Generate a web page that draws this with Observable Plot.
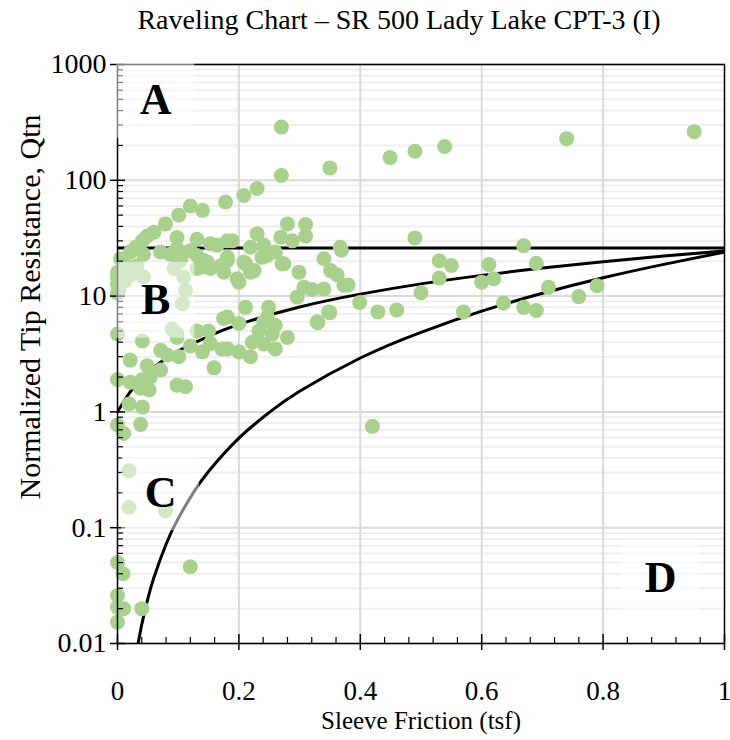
<!DOCTYPE html>
<html><head><meta charset="utf-8">
<script src="https://cdn.jsdelivr.net/npm/d3@7"></script>
<script src="https://cdn.jsdelivr.net/npm/@observablehq/plot@0.6"></script>
<style>body{margin:0;background:#fff}</style>
</head><body><div id="chart"></div>
<script>
const chartTitle = "Raveling Chart \u2013 SR 500 Lady Lake CPT-3 (I)";
const xTitle = "Sleeve Friction (tsf)";
const yTitle = "Normalized Tip Resistance, Qtn";

// CPT readings: sleeve friction (tsf) and normalized tip resistance Qtn
const sleeveFriction = [
  0.270,0.270,0.350,0.449,0.490,0.539,0.740,0.950,
  0.120,0.140,0.178,0.101,0.079,0.060,0.049,0.098,0.131,0.041,0.030,0.021,0.153,0.164,0.098,0.120,0.071,0.087,0.043,0.131,0.181,0.148,0.170,0.104,0.032,0.019,0.000,0.002,0.021,0.043,0.112,0.109,0.093,0.142,0.153,0.175,
  0.208,0.230,0.280,0.310,0.230,0.189,0.269,0.288,0.310,0.219,0.241,0.260,0.238,0.271,0.208,0.181,0.219,0.197,0.299,0.340,0.351,0.362,0.367,0.307,0.340,0.296,0.373,0.211,0.249,
  0.181,0.211,0.225,0.200,0.274,0.247,0.142,0.131,
  0.321,0.380,0.399,0.429,0.460,0.350,0.330,0.490,0.369,
  0.500,0.530,0.550,0.530,0.570,0.612,0.600,0.620,0.636,0.669,0.690,0.710,0.669,0.690,0.760,0.790,0.420,
  0.181,0.200,0.247,0.241,0.260,0.233,0.255,0.280,0.222,0.241,0.181,0.200,0.219,0.260,0.329,0.348,0.175,0.090,0.098,0.131,0.150,0.041,0.000,0.120,0.153,0.140,0.172,0.071,0.082,0.101,0.021,0.049,0.071,0.159,0.000,0.021,0.041,0.054,0.038,0.052,0.098,0.112,0.019,0.041,0.000,0.038,0.010,0.098,0.107,
  0.019,0.019,0.079,0.000,0.009,0.120,0.000,0.000,0.010,0.040,0.000,
  0.000,0.000,0.000,0.012,0.005
];
const tipResistance = [
  288,110,128,157,178,196,229,263,
  60,55,65,50,42,35.6,33,32,31,30,26.4,24,28.3,27.5,25.6,24.7,24,23,23,22.4,30,19.7,18.3,20.3,18.3,17.9,14.6,11.2,15.2,14.6,11.2,14.6,17.3,17.9,17.3,16.1,
  74,85,42,41.5,34.5,30,32.3,30,33,26.4,27.5,24,21.6,19,19.7,21.6,16.1,14.1,16.1,21,16.6,15.2,26.4,11.9,11.5,9.8,12.4,8.0,8.0,
  20.3,19.0,16.6,13.2,19.0,22.5,20.3,17.3,
  11.4,12.5,8.8,7.3,7.6,7.2,5.9,31.8,24.9,
  10.7,20.2,18.4,14.3,7.3,18.7,13.2,14.1,8.7,27.2,19.2,11.9,8.0,7.5,9.9,12.3,0.75,
  6.6,5.8,6.6,6.0,5.6,5.0,4.7,4.4,4.0,3.85,3.5,3.3,3.0,3.5,6.0,7.3,6.4,5.2,4.4,5.0,5.0,4.1,4.7,3.7,3.9,3.3,3.5,3.4,3.1,3.0,2.8,2.5,2.3,2.4,1.9,1.8,1.9,2.0,1.6,1.55,1.7,1.65,1.17,1.1,0.77,0.78,0.65,4.7,8.6,
  0.31,0.15,0.14,0.050,0.040,0.046,0.026,0.0206,0.020,0.020,0.0153,
  12.8,10.6,16,13.5,21
];

// Boundary lines
const thresholdQ = 26;
const upperCurveF = [0, 0.02, 0.05, 0.1, 0.15, 0.2, 0.3, 0.4, 0.5, 0.6, 0.7, 0.8, 0.9, 1.0];
const upperCurveQ = [1.0, 1.47, 2.2, 3.35, 4.5, 5.7, 8.05, 10.4, 12.75, 15.1, 17.45, 19.8, 22.15, 24.5];
const lowerCurveF = [0.033, 0.04, 0.05, 0.06, 0.08, 0.1, 0.125, 0.15, 0.2, 0.25, 0.3, 0.4, 0.5, 0.6, 0.7, 0.8, 0.9, 1.0];
const lowerCurveQ = [0.0093, 0.0146, 0.0244, 0.0372, 0.072, 0.12, 0.201, 0.306, 0.593, 0.989, 1.505, 2.92, 4.87, 7.41, 10.57, 14.4, 18.8, 24];

// Zone labels
const zoneNames = ["A", "B", "C", "D"];
const zoneF = [0.063, 0.063, 0.071, 0.895];
const zoneQ = [490, 9.2, 0.2, 0.037];

// Axis ticks
const xTicks = [0, 0.2, 0.4, 0.6, 0.8, 1];
const xTickLabels = ["0", "0.2", "0.4", "0.6", "0.8", "1"];
const yTicks = [0.01, 0.1, 1, 10, 100, 1000];
const yTickLabels = ["0.01", "0.1", "1", "10", "100", "1000"];

const points = sleeveFriction.map((f, i) => ({f, q: tipResistance[i]}));
const upper = upperCurveF.map((f, i) => ({f, q: upperCurveQ[i]}));
const lower = lowerCurveF.map((f, i) => ({f, q: lowerCurveQ[i]}));
const zones = zoneNames.map((name, i) => ({name, f: zoneF[i], q: zoneQ[i]}));

const minorY = [];
for (const d of yTicks.slice(0, -1)) for (let k = 2; k <= 9; k++) minorY.push(+(d * k).toPrecision(3));
const minorX = d3.range(0, 1.0001, 0.04).map(v => +v.toFixed(2)).filter(v => !xTicks.includes(v));

const W = 730, H = 740, ML = 117, MR = 6, MT = 64, MB = 97;
const PW = W - ML - MR, PH = H - MT - MB;
const boxHalfX = 39 / PW;
const boxFactor = Math.pow(10, 38 / (PH / 5));
const serif = "'Liberation Serif', 'Times New Roman', serif";

const chart = Plot.plot({
  width: W, height: H,
  marginLeft: ML, marginRight: MR, marginTop: MT, marginBottom: MB,
  style: {fontFamily: serif, background: "#fff", color: "#000"},
  x: {domain: [0, 1]},
  y: {type: "log", domain: [0.01, 1000]},
  marks: [
    Plot.ruleY(minorY, {stroke: "#efefef", strokeWidth: 2}),
    Plot.ruleY(yTicks, {stroke: "#d9d9d9", strokeWidth: 2}),
    Plot.ruleX(xTicks.slice(1, -1), {stroke: "#d9d9d9", strokeWidth: 2}),
    Plot.ruleY([thresholdQ], {stroke: "#000", strokeWidth: 3}),
    Plot.line(upper, {x: "f", y: "q", curve: "natural", stroke: "#000", strokeWidth: 3, clip: true}),
    Plot.line(lower, {x: "f", y: "q", curve: "natural", stroke: "#000", strokeWidth: 3, clip: true}),
    Plot.dot(points, {x: "f", y: "q", r: 7.5, fill: "#a9d18e", stroke: "none"}),
    Plot.frame({stroke: "#000", strokeWidth: 1.5}),
    Plot.tickY(minorY, {insetRight: PW - 6, stroke: "#000", strokeWidth: 1.2}),
    Plot.tickY(yTicks, {insetLeft: -7, insetRight: PW - 8, stroke: "#000", strokeWidth: 1.5}),
    Plot.tickX(minorX, {insetTop: PH - 6, stroke: "#000", strokeWidth: 1.2}),
    Plot.tickX(xTicks, {insetTop: PH - 9, insetBottom: -7, stroke: "#000", strokeWidth: 1.5}),
    Plot.axisY(yTicks, {tickSize: 0, tickPadding: 11, fontSize: 28, label: null,
      tickFormat: d => yTickLabels[yTicks.indexOf(d)]}),
    Plot.axisX(xTicks, {tickSize: 0, tickPadding: 37, fontSize: 27, label: null,
      tickFormat: d => xTickLabels[xTicks.indexOf(d)]}),
    Plot.rect(zones, {x1: d => d.f - boxHalfX, x2: d => d.f + boxHalfX, y1: d => d.q / boxFactor, y2: d => d.q * boxFactor,
      fill: "#fff", fillOpacity: 0.5}),
    Plot.text(zones, {x: "f", y: "q", text: "name", fontSize: 44, fontWeight: "bold", fill: "#000"}),
    Plot.text([chartTitle], {frameAnchor: "top", textAnchor: "middle", lineAnchor: "middle", dx: -22, dy: -44, fontSize: 28, fill: "#000"}),
    Plot.text([xTitle], {frameAnchor: "bottom", textAnchor: "middle", lineAnchor: "middle", dy: 77, fontSize: 25, fill: "#000"}),
    Plot.text([yTitle], {frameAnchor: "left", textAnchor: "middle", lineAnchor: "middle", rotate: -90, dx: -87, dy: -47, fontSize: 30, fill: "#000"})
  ]
});
document.getElementById("chart").appendChild(chart);
</script>
</body></html>
